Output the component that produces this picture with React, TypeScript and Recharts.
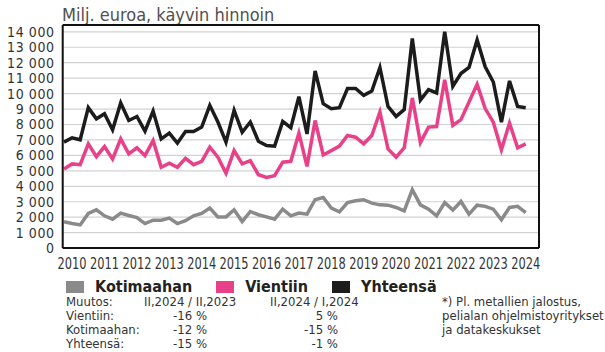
import React from 'react';
import { LineChart, Line, XAxis, YAxis, CartesianGrid } from 'recharts';

// neljännesvuodet 2010 Q1 - 2024 Q2, x = vuosi + q/4 (neljänneksen loppu)
const startYear = 2010;
const quarterCount = 58;

const kotimaahan = [
  1700, 1590, 1500, 2240, 2480, 2090, 1870, 2260, 2110, 1980, 1590, 1810, 1810, 1940, 1590,
  1770, 2090, 2240, 2590, 2020, 2020, 2480, 1720, 2370, 2160, 2020, 1870, 2520, 2090, 2270,
  2200, 3130, 3280, 2590, 2350, 2950, 3060, 3130, 2910, 2800, 2780, 2630, 2410, 3780, 2800,
  2520, 2090, 2950, 2460, 3020, 2200, 2780, 2700, 2520, 1830, 2630, 2700, 2300,
];

const vientiin = [
  5120, 5450, 5400, 6750, 5920, 6570, 5770, 7070, 6100, 6490, 5990, 6960, 5230, 5490, 5230,
  5810, 5400, 5620, 6530, 5880, 4840, 6310, 5450, 5660, 4750, 4580, 4690, 5560, 5620, 7440,
  5290, 8260, 6030, 6310, 6600, 7290, 7180, 6750, 7290, 8810, 6420, 5880, 6490, 9720, 6830,
  7830, 7870, 10900, 7940, 8310, 9460, 10610, 9030, 8150, 6360, 8090, 6490, 6750,
];

const yhteensa = [
  6860, 7140, 7010, 9090, 8370, 8700, 7660, 9390, 8260, 8520, 7570, 8870, 7070, 7440, 6790,
  7550, 7550, 7830, 9240, 8160, 6860, 8910, 7500, 8160, 6920, 6640, 6600, 8200, 7790, 9800,
  7390, 11470, 9350, 9020, 9090, 10330, 10330, 9890, 10170, 11690, 9170, 8520, 8960, 13570, 9580,
  10260, 10040, 14000, 10470, 11300, 11690, 13470, 11730, 10750, 8150, 10820, 9170, 9090,
];

const yearLabels = [2010, 2011, 2012, 2013, 2014, 2015, 2016, 2017, 2018, 2019, 2020, 2021, 2022, 2023, 2024];
const yTicks = [0, 1000, 2000, 3000, 4000, 5000, 6000, 7000, 8000, 9000, 10000, 11000, 12000, 13000, 14000];

const changeRows = [
  { name: 'Vientiin:', yoy: '-16 %', qoq: '5 %' },
  { name: 'Kotimaahan:', yoy: '-12 %', qoq: '-15 %' },
  { name: 'Yhteensä:', yoy: '-15 %', qoq: '-1 %' },
];

const legendItems = [
  { name: 'Kotimaahan', color: '#8a8a8a' },
  { name: 'Vientiin', color: '#e8418a' },
  { name: 'Yhteensä', color: '#1c1c1c' },
];

const data = kotimaahan.map((k, i) => ({
  t: startYear + (i + 1) / 4,
  kotimaahan: k,
  vientiin: vientiin[i],
  yhteensa: yhteensa[i],
}));

const X_DOMAIN: [number, number] = [2010.21, 2024.91];
const Y_MAX = 14440;

const gridTicks = yearLabels.slice(1);
const midTicks = yearLabels.map((y) => y + 0.5);
const quarterTicks = Array.from({ length: quarterCount + 1 }, (_, i) => startYear + (i + 1) / 4);

const COND = "'Liberation Sans Narrow', 'DejaVu Sans Condensed', 'Roboto Condensed', sans-serif";
const TEXT = '#333';
const FRAME = { stroke: '#111', strokeWidth: 2 };

const fmt = (v: number) => String(v).replace(/\B(?=(\d{3})+(?!\d))/g, ' ');

// vuosiluvut kapealla, korkealla kirjaimella kuten alkuperäisessä
const YearTick = (props: any) => {
  const { x, y, payload } = props;
  return (
    <text x={x} y={y} dy={12} textAnchor="middle" fill={TEXT} fontSize={15.5} fontFamily={COND} textLength={29} lengthAdjust="spacingAndGlyphs">
      {String(Math.floor(payload.value))}
    </text>
  );
};

export default function App() {
  return (
    <div style={{ position: 'absolute', left: 0, top: 0, width: 605, height: 352, background: '#fff', overflow: 'hidden', fontFamily: COND }}>
      <div style={{ position: 'absolute', left: 62, top: 4, fontSize: 18, color: '#505050' }}>
        Milj. euroa, käyvin hinnoin
      </div>

      <LineChart width={605} height={352} data={data} margin={{ top: 24, right: 65, left: 0, bottom: 101.9 }}>
        <XAxis
          xAxisId="q"
          dataKey="t"
          type="number"
          domain={X_DOMAIN}
          allowDataOverflow
          ticks={quarterTicks}
          interval={0}
          height={1}
          mirror
          tickSize={5}
          tick={false}
          axisLine={FRAME}
          tickLine={{ stroke: '#777', strokeWidth: 1 }}
        />
        <XAxis
          xAxisId="grid"
          dataKey="t"
          type="number"
          domain={X_DOMAIN}
          allowDataOverflow
          ticks={gridTicks}
          interval={0}
          height={1}
          tick={false}
          tickLine={false}
          axisLine={false}
        />
        <XAxis
          xAxisId="lbl"
          dataKey="t"
          type="number"
          domain={X_DOMAIN}
          allowDataOverflow
          ticks={midTicks}
          interval={0}
          height={1}
          tickLine={false}
          axisLine={false}
          tick={<YearTick />}
        />
        <XAxis
          xAxisId="top"
          orientation="top"
          dataKey="t"
          type="number"
          domain={X_DOMAIN}
          allowDataOverflow
          height={1}
          tick={false}
          tickLine={false}
          axisLine={FRAME}
        />
        <YAxis
          type="number"
          domain={[0, Y_MAX]}
          allowDataOverflow
          ticks={yTicks}
          interval={0}
          width={62.7}
          tickLine={false}
          axisLine={FRAME}
          tickFormatter={fmt}
          tick={{ fill: TEXT, fontSize: 14, fontFamily: COND, letterSpacing: 0.6 }}
        />
        <YAxis
          yAxisId="right"
          orientation="right"
          type="number"
          domain={[0, Y_MAX]}
          allowDataOverflow
          width={1}
          tick={false}
          tickLine={false}
          axisLine={FRAME}
        />
        <CartesianGrid xAxisId="grid" stroke="#d2d2d2" strokeWidth={1.2} />
        <Line xAxisId="lbl" dataKey="kotimaahan" stroke="#8a8a8a" strokeWidth={3.5} dot={false} isAnimationActive={false} />
        <Line xAxisId="lbl" dataKey="vientiin" stroke="#e8418a" strokeWidth={3.5} dot={false} isAnimationActive={false} />
        <Line xAxisId="lbl" dataKey="yhteensa" stroke="#1c1c1c" strokeWidth={3.5} dot={false} isAnimationActive={false} />
      </LineChart>

      <div style={{ position: 'absolute', left: 66, top: 279, display: 'flex', alignItems: 'center', fontSize: 16, fontWeight: 'bold', color: '#222', lineHeight: '15px' }}>
        {legendItems.map((it) => (
          <div key={it.name} style={{ display: 'flex', alignItems: 'center', marginRight: 24 }}>
            <span style={{ display: 'inline-block', width: 18, height: 12, background: it.color, marginRight: 11 }} />
            {it.name}
          </div>
        ))}
      </div>

      <div style={{ position: 'absolute', left: 66, top: 295, fontSize: 13, color: TEXT, lineHeight: '14px' }}>
        <div style={{ display: 'flex' }}>
          <span style={{ width: 78 }}>Muutos:</span>
          <span style={{ width: 126 }}>II,2024 / II,2023</span>
          <span>II,2024 / I,2024</span>
        </div>
        {changeRows.map((r) => (
          <div key={r.name} style={{ display: 'flex' }}>
            <span style={{ width: 78 }}>{r.name}</span>
            <span style={{ width: 63, textAlign: 'right' }}>{r.yoy}</span>
            <span style={{ width: 131, textAlign: 'right' }}>{r.qoq}</span>
          </div>
        ))}
      </div>

      <div style={{ position: 'absolute', left: 442, top: 295, fontSize: 13, color: TEXT, lineHeight: '14px' }}>
        <div>*) Pl. metallien jalostus,</div>
        <div>pelialan ohjelmistoyritykset</div>
        <div>ja datakeskukset</div>
      </div>
    </div>
  );
}
